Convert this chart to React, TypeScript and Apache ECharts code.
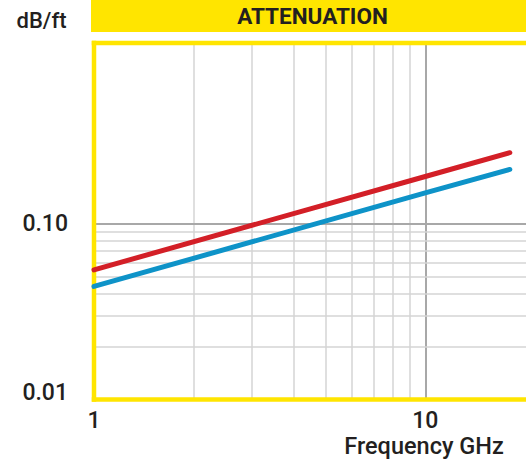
import React, { useEffect, useRef } from "react";
import * as echarts from "echarts";

const frequencies = [1, 10, 18];
const redLoss = [0.0547, 0.186, 0.254];
const blueLoss = [0.044, 0.15, 0.204];
const minorX = [2, 3, 4, 5, 6, 7, 8, 9];
const majorX = [10];
const minorY = [0.02, 0.03, 0.04, 0.05, 0.06, 0.07, 0.08, 0.09];
const majorY = [0.1];
const yTickLabels: Record<string, string> = { "0.01": "0.01", "0.1": "0.10" };
const xTickLabels: Record<string, string> = { "1": "1", "10": "10" };

const YELLOW = "#FFE500";
const TEXT = "#231F20";
const FONT = "Roboto";

export default function App() {
  const ref = useRef<HTMLDivElement>(null);
  useEffect(() => {
    if (!ref.current) return;
    const chart = echarts.init(ref.current, null, { renderer: "svg" });
    const light = { color: "#d4d4d4", width: 1.5, type: "solid" as const };
    const dark = { color: "#a8a8a8", width: 2, type: "solid" as const };
    const frameStyle = { stroke: YELLOW, lineWidth: 4.5 };
    chart.setOption({
      animation: false,
      backgroundColor: "#ffffff",
      grid: {
        left: 94,
        top: 43,
        width: 438,
        height: 356.5,
        show: false,
        containLabel: false,
        outerBoundsMode: "none",
      },
      xAxis: {
        type: "log",
        logBase: 10,
        min: 1,
        max: 21,
        axisLine: { show: false },
        axisTick: { show: false },
        splitLine: { show: false },
        axisLabel: {
          margin: 9,
          color: TEXT,
          fontFamily: FONT,
          fontSize: 23,
          fontWeight: 500,
          formatter: (v: number) => xTickLabels[String(Math.round(v * 1000) / 1000)] ?? "",
        },
      },
      yAxis: {
        type: "log",
        logBase: 10,
        min: 0.01,
        max: 1.07,
        axisLine: { show: false },
        axisTick: { show: false },
        splitLine: { show: false },
        axisLabel: {
          margin: 26,
          color: TEXT,
          fontFamily: FONT,
          fontSize: 23,
          fontWeight: 500,
          formatter: (v: number) => {
            const key = String(Math.round(v * 10000) / 10000);
            const t = yTickLabels[key];
            if (!t) return "";
            return key === "0.01" ? "{low|" + t + "}" : t;
          },
          rich: {
            low: {
              color: TEXT,
              fontFamily: FONT,
              fontSize: 23,
              fontWeight: 500,
              padding: [0, 0, 14, 0],
            },
          },
        },
      },
      graphic: [
        {
          type: "rect",
          z: 2,
          shape: { x: 91, y: 0, width: 480, height: 32 },
          style: { fill: YELLOW },
        },
        {
          type: "line",
          z: 2,
          shape: { x1: 91.75, y1: 43, x2: 580, y2: 43 },
          style: frameStyle,
        },
        {
          type: "line",
          z: 2,
          shape: { x1: 91.75, y1: 399.5, x2: 580, y2: 399.5 },
          style: frameStyle,
        },
        {
          type: "line",
          z: 2,
          shape: { x1: 94, y1: 40.75, x2: 94, y2: 401.75 },
          style: frameStyle,
        },
        {
          type: "text",
          z: 4,
          x: 312.5,
          y: 16,
          style: {
            text: "ATTENUATION",
            font: `700 22.5px ${FONT}`,
            fill: TEXT,
            textAlign: "center",
            textVerticalAlign: "middle",
          },
        },
        {
          type: "text",
          z: 4,
          x: 41.5,
          y: 20.5,
          style: {
            text: "dB/ft",
            font: `500 22px ${FONT}`,
            fill: TEXT,
            textAlign: "center",
            textVerticalAlign: "middle",
          },
        },
        {
          type: "text",
          z: 4,
          x: 424,
          y: 446,
          style: {
            text: "Frequency GHz",
            font: `500 23.5px ${FONT}`,
            fill: TEXT,
            textAlign: "center",
            textVerticalAlign: "middle",
          },
        },
      ],
      series: [
        {
          type: "line",
          z: 3,
          data: frequencies.map((f, i) => [f, blueLoss[i]]),
          symbol: "none",
          lineStyle: { color: "#0E93C8", width: 5, cap: "round" },
          markLine: {
            z: 1,
            silent: true,
            symbol: ["none", "none"],
            label: { show: false },
            emphasis: { disabled: true },
            data: [
              ...minorX.map((v) => ({ xAxis: v, lineStyle: light })),
              ...majorX.map((v) => ({ xAxis: v, lineStyle: dark })),
              ...minorY.map((v) => ({ yAxis: v, lineStyle: light })),
              ...majorY.map((v) => ({ yAxis: v, lineStyle: dark })),
            ],
          },
        },
        {
          type: "line",
          z: 3,
          data: frequencies.map((f, i) => [f, redLoss[i]]),
          symbol: "none",
          lineStyle: { color: "#D31F27", width: 5, cap: "round" },
        },
      ],
    });
    return () => chart.dispose();
  }, []);
  return (
    <div
      ref={ref}
      style={{ position: "fixed", left: 0, top: 0, width: 560, height: 460 }}
    />
  );
}
